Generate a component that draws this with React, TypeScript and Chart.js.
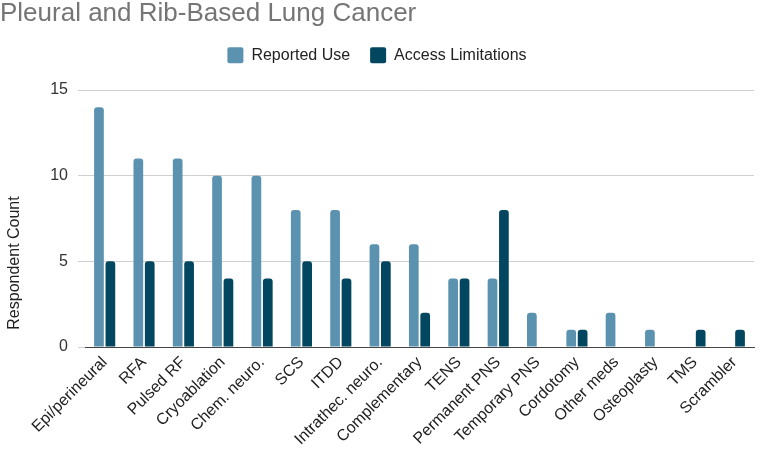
import React, { useEffect, useRef } from "react";
import { Chart, registerables } from "chart.js";

Chart.register(...registerables);

const categories = [
  "Epi/perineural", "RFA", "Pulsed RF", "Cryoablation", "Chem. neuro.", "SCS", "ITDD",
  "Intrathec. neuro.", "Complementary", "TENS", "Permanent PNS", "Temporary PNS",
  "Cordotomy", "Other meds", "Osteoplasty", "TMS", "Scrambler",
];
const reportedUse = [14, 11, 11, 10, 10, 8, 8, 6, 6, 4, 4, 2, 1, 2, 1, 0, 0];
const accessLimitations = [5, 5, 5, 4, 4, 5, 4, 5, 2, 4, 8, 0, 1, 0, 0, 1, 1];
const yTicks = [0, 5, 10, 15];
const yAxisTitle = "Respondent Count";

const FONT = "'Liberation Sans', Arial, sans-serif";

const legendSpacer = {
  id: "legendSpacer",
  beforeInit(chart: any) {
    const legend = chart.legend;
    if (!legend) return;
    const origFit = legend.fit;
    legend.fit = function () {
      origFit.call(this);
      this.height = 62.7;
    };
  },
};

const yTitlePlugin = {
  id: "yTitlePlugin",
  afterDraw(chart: any) {
    const ctx = chart.ctx;
    const area = chart.chartArea;
    ctx.save();
    ctx.font = `16px ${FONT}`;
    ctx.fillStyle = "#222";
    ctx.textAlign = "center";
    ctx.textBaseline = "middle";
    ctx.translate(15, area.bottom - 84);
    ctx.rotate(-Math.PI / 2);
    ctx.fillText(yAxisTitle, 0, 0);
    ctx.restore();
  },
};

export default function App() {
  const ref = useRef<HTMLCanvasElement | null>(null);
  useEffect(() => {
    if (!ref.current) return;
    const chart = new Chart(ref.current, {
      type: "bar",
      data: {
        labels: categories,
        datasets: [
          {
            label: "Reported Use",
            data: reportedUse,
            backgroundColor: "#5A92B0",
            borderRadius: { topLeft: 3, topRight: 3, bottomLeft: 0, bottomRight: 0 },
            borderSkipped: "bottom",
            categoryPercentage: 0.58,
            barPercentage: 0.85,
          },
          {
            label: "Access Limitations",
            data: accessLimitations,
            backgroundColor: "#03465F",
            borderRadius: { topLeft: 3, topRight: 3, bottomLeft: 0, bottomRight: 0 },
            borderSkipped: "bottom",
            categoryPercentage: 0.58,
            barPercentage: 0.85,
          },
        ],
      },
      plugins: [legendSpacer, yTitlePlugin],
      options: {
        animation: false,
        responsive: false,
        maintainAspectRatio: false,
        layout: { padding: { left: 0, right: 10, top: 0, bottom: 0 } },
        plugins: {
          title: {
            display: true,
            text: "Pleural and Rib-Based Lung Cancer",
            align: "start",
            color: "#757575",
            font: { family: FONT, size: 26, weight: "normal", lineHeight: 1.05 },
            padding: { top: 0, bottom: 0 },
          },
          legend: {
            position: "top",
            labels: {
              boxWidth: 16,
              boxHeight: 16,
              padding: 20,
              useBorderRadius: true,
              borderRadius: 2,
              color: "#222",
              font: { family: FONT, size: 16 },
            },
          },
          tooltip: { enabled: false },
        },
        scales: {
          x: {
            grid: { display: false, drawTicks: false },
            border: { display: true, color: "#444", width: 1 },
            afterFit: (axis: any) => {
              axis.height = 105;
            },
            ticks: {
              minRotation: 45,
              maxRotation: 45,
              color: "#222",
              padding: 6,
              font: { family: FONT, size: 16 },
            },
          },
          y: {
            min: 0,
            max: 15,
            afterBuildTicks: (axis: any) => {
              axis.ticks = yTicks.map((v) => ({ value: v }));
            },
            afterFit: (axis: any) => {
              axis.width = 85;
            },
            grid: { color: "#d0d0d0", tickLength: 7, drawTicks: true },
            border: { display: false },
            ticks: {
              color: "#333",
              padding: 10,
              font: { family: FONT, size: 16 },
            },
          },
        },
      },
    });
    return () => chart.destroy();
  }, []);
  return (
    <div style={{ position: "fixed", left: 0, top: 0, width: 764, height: 452, background: "#fff" }}>
      <canvas ref={ref} width={764} height={452} style={{ width: 764, height: 452 }} />
    </div>
  );
}
